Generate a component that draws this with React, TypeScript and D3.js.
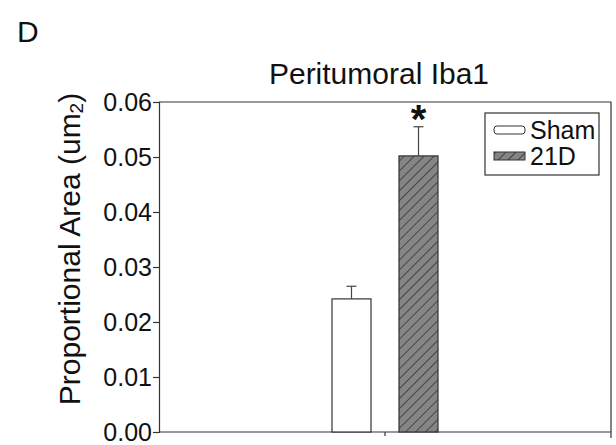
import { useEffect, useRef } from 'react'
import * as d3 from 'd3'

const groups = ['Peritumoral']
const series = ['Sham', '21D']
const means = [0.0242, 0.0502]
const errors = [0.0023, 0.0053]
const yTicks = [0, 0.01, 0.02, 0.03, 0.04, 0.05, 0.06]

export default function App() {
  const ref = useRef<SVGSVGElement>(null)

  useEffect(() => {
    const svg = d3.select(ref.current)
    svg.selectAll('*').remove()

    const font = "'Liberation Sans', Arial, sans-serif"
    const left = 159, right = 611, top = 102, bottom = 432

    // hatch pattern
    const defs = svg.append('defs')
    const pat = defs.append('pattern')
      .attr('id', 'hatch').attr('patternUnits', 'userSpaceOnUse')
      .attr('width', 7).attr('height', 7)
      .attr('patternTransform', 'rotate(45)')
    pat.append('rect').attr('width', 7).attr('height', 7).attr('fill', '#858585')
    pat.append('line').attr('x1', 0).attr('y1', 0).attr('x2', 0).attr('y2', 7)
      .attr('stroke', '#2a2a2a').attr('stroke-width', 1.4)

    const y = d3.scaleLinear().domain([0, 0.06]).range([bottom, top])
    const x0 = d3.scaleBand().domain(groups).range([left, right]).paddingInner(0).paddingOuter(1.632)
    const x1 = d3.scaleBand().domain(series).range([0, x0.bandwidth()]).paddingInner(0.418).paddingOuter(0)

    // frame: top and right
    svg.append('path')
      .attr('d', `M${left},${top}H${right}V${bottom + 6}`)
      .attr('fill', 'none').attr('stroke', '#333').attr('stroke-width', 1.2)

    // y axis
    const gy = svg.append('g').attr('transform', `translate(${left},0)`)
      .call(d3.axisLeft(y).tickValues(yTicks).tickFormat(d3.format('.2f')).tickSize(6).tickPadding(1))
    gy.select('.domain').attr('stroke', '#333').attr('stroke-width', 1.2)
    gy.selectAll('.tick line').attr('stroke', '#333').attr('stroke-width', 1.2)
    gy.selectAll('text').attr('font-family', font).attr('font-size', 25).attr('fill', '#111')

    // x axis
    const gx = svg.append('g').attr('transform', `translate(0,${bottom})`)
      .call(d3.axisBottom(x0).tickSize(4).tickFormat(() => ''))
    gx.select('.domain').attr('d', `M${left},0H${right}`).attr('stroke', '#333').attr('stroke-width', 1.2)
    gx.selectAll('.tick line').attr('stroke', '#333').attr('stroke-width', 1.2)

    // bars
    const g = svg.append('g').attr('transform', `translate(${x0(groups[0])},0)`)
    series.forEach((s, i) => {
      const bx = x1(s)!
      const bw = x1.bandwidth()
      g.append('rect')
        .attr('x', bx).attr('y', y(means[i]))
        .attr('width', bw).attr('height', y(0) - y(means[i]))
        .attr('fill', i === 0 ? '#fff' : 'url(#hatch)')
        .attr('stroke', '#333').attr('stroke-width', 1.2)
      const cx = bx + bw / 2
      g.append('line')
        .attr('x1', cx).attr('x2', cx).attr('y1', y(means[i])).attr('y2', y(means[i] + errors[i]))
        .attr('stroke', '#444').attr('stroke-width', 1.2)
      g.append('line')
        .attr('x1', cx - 5).attr('x2', cx + 5).attr('y1', y(means[i] + errors[i])).attr('y2', y(means[i] + errors[i]))
        .attr('stroke', '#444').attr('stroke-width', 1.2)
    })

    // significance star
    const sx = x1('21D')! + x1.bandwidth() / 2
    g.append('text').attr('x', sx).attr('y', y(means[1] + errors[1]) + 6)
      .attr('text-anchor', 'middle').attr('font-family', font).attr('font-size', 40)
      .attr('font-weight', 'bold').attr('fill', '#111').text('*')

    // legend
    const lg = svg.append('g').attr('transform', 'translate(485,113)')
    lg.append('rect').attr('width', 114).attr('height', 62)
      .attr('fill', '#fff').attr('stroke', '#333').attr('stroke-width', 1.2)
    series.forEach((s, i) => {
      const ly = 13 + i * 26
      lg.append('rect').attr('x', 9).attr('y', ly).attr('width', 31).attr('height', 8)
        .attr('rx', i === 0 ? 3 : 0)
        .attr('fill', i === 0 ? '#fff' : 'url(#hatch)').attr('stroke', '#333').attr('stroke-width', 1)
      lg.append('text').attr('x', 45).attr('y', ly + 13)
        .attr('font-family', font).attr('font-size', 25).attr('fill', '#111').text(s)
    })

    // title + panel letter
    svg.append('text').attr('x', 379).attr('y', 84).attr('text-anchor', 'middle')
      .attr('font-family', font).attr('font-size', 30).attr('fill', '#111').text('Peritumoral Iba1')
    svg.append('text').attr('x', 17).attr('y', 42)
      .attr('font-family', font).attr('font-size', 30).attr('fill', '#111').text('D')

    // y label
    const yl = svg.append('text')
      .attr('transform', 'translate(80,249) rotate(-90)')
      .attr('text-anchor', 'middle').attr('font-family', font).attr('font-size', 30).attr('fill', '#111')
    yl.append('tspan').text('Proportional Area (um')
    yl.append('tspan').attr('font-size', 19).attr('dy', 3).text('2')
    yl.append('tspan').attr('dy', -3).text(')')
  }, [])

  return (
    <div style={{ position: 'absolute', left: 0, top: 0 }}>
      <svg ref={ref} width={616} height={445} style={{ display: 'block', background: '#fff' }} />
    </div>
  )
}
